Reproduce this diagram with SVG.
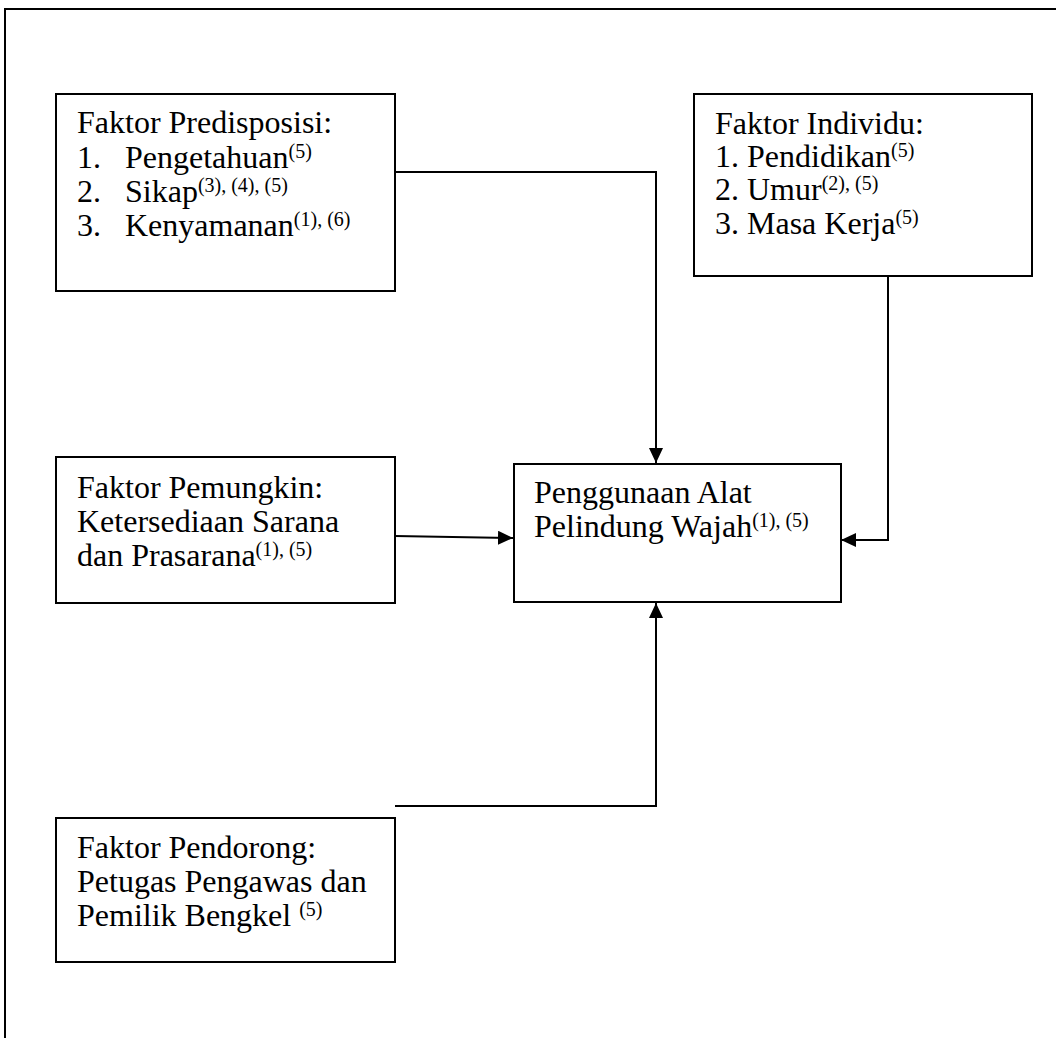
<svg xmlns="http://www.w3.org/2000/svg" width="1056" height="1038" viewBox="0 0 1056 1038">
<style>
  .box { fill: #fff; stroke: #000; stroke-width: 2; }
  .t { font-family: "Liberation Serif", "Times New Roman", serif; font-size: 32px; fill: #000; }
  .sup { font-size: 20px; }
  .conn { fill: none; stroke: #000; stroke-width: 2; }
</style>
<defs>
  <marker id="arr" markerUnits="userSpaceOnUse" markerWidth="16" markerHeight="14" refX="15" refY="7" orient="auto">
    <path d="M0,0 L15,7 L0,14 Z" fill="#000"/>
  </marker>
</defs>
<rect width="1056" height="1038" fill="#fff"/>
<path d="M5,1038 V9 H1056" fill="none" stroke="#000" stroke-width="2"/>

<g id="connectors">
  <path class="conn" d="M395,172 H656 V463" marker-end="url(#arr)"/>
  <path class="conn" d="M888,276 V540 H841" marker-end="url(#arr)"/>
  <path class="conn" d="M395,536 L513,538" marker-end="url(#arr)"/>
  <path class="conn" d="M395,806 H656 V603" marker-end="url(#arr)"/>
</g>

<g id="predisposisi">
  <rect class="box" x="56" y="94" width="339" height="197"/>
  <text class="t" x="77" y="133">Faktor Predisposisi:</text>
  <text class="t" x="77" y="168">1.</text>
  <text class="t" x="125" y="168">Pengetahuan<tspan class="sup" dy="-10">(5)</tspan></text>
  <text class="t" x="77" y="202">2.</text>
  <text class="t" x="125" y="202">Sikap<tspan class="sup" dy="-10">(3), (4), (5)</tspan></text>
  <text class="t" x="77" y="236">3.</text>
  <text class="t" x="125" y="236">Kenyamanan<tspan class="sup" dy="-10">(1), (6)</tspan></text>
</g>

<g id="individu">
  <rect class="box" x="694" y="94" width="338" height="182"/>
  <text class="t" x="715" y="134">Faktor Individu:</text>
  <text class="t" x="715" y="167">1. Pendidikan<tspan class="sup" dy="-10">(5)</tspan></text>
  <text class="t" x="715" y="200">2. Umur<tspan class="sup" dy="-10">(2), (5)</tspan></text>
  <text class="t" x="715" y="234">3. Masa Kerja<tspan class="sup" dy="-10">(5)</tspan></text>
</g>

<g id="pemungkin">
  <rect class="box" x="56" y="457" width="339" height="146"/>
  <text class="t" x="77" y="498">Faktor Pemungkin:</text>
  <text class="t" x="77" y="532">Ketersediaan Sarana</text>
  <text class="t" x="77" y="566">dan Prasarana<tspan class="sup" dy="-10">(1), (5)</tspan></text>
</g>

<g id="penggunaan">
  <rect class="box" x="514" y="464" width="327" height="138"/>
  <text class="t" x="534" y="503">Penggunaan Alat</text>
  <text class="t" x="534" y="537">Pelindung Wajah<tspan class="sup" dy="-10">(1), (5)</tspan></text>
</g>

<g id="pendorong">
  <rect class="box" x="56" y="818" width="339" height="144"/>
  <text class="t" x="77" y="858">Faktor Pendorong:</text>
  <text class="t" x="77" y="892">Petugas Pengawas dan</text>
  <text class="t" x="77" y="926">Pemilik Bengkel <tspan class="sup" dy="-10">(5)</tspan></text>
</g>
</svg>
